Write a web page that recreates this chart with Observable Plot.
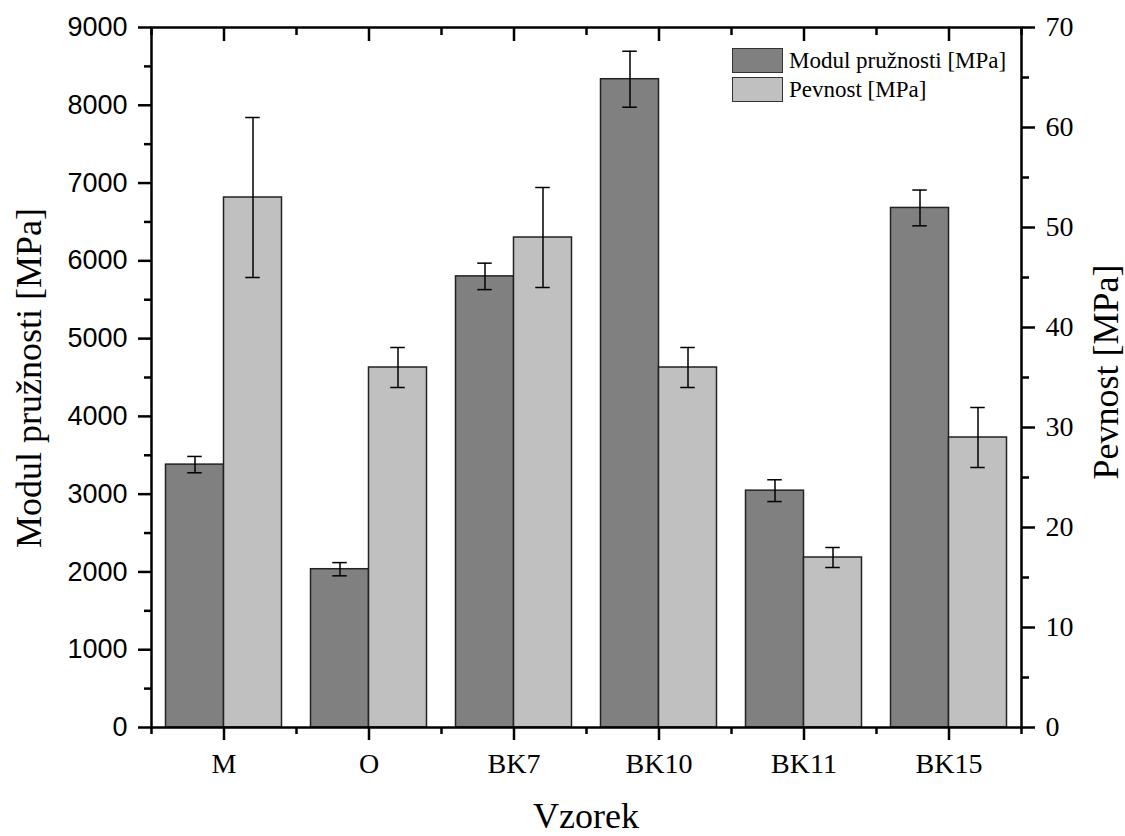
<!DOCTYPE html>
<html>
<head>
<meta charset="utf-8">
<script src="https://cdn.jsdelivr.net/npm/d3@7"></script>
<script src="https://cdn.jsdelivr.net/npm/@observablehq/plot@0.6"></script>
<style>
  body { margin: 0; background: #fff; }
  #chart { position: relative; width: 1125px; height: 836px; }
  .legend { position: absolute; left: 732px; top: 48px; font-family: "Liberation Serif", serif; font-size: 23px; color: #000; }
  .legend .row { display: flex; align-items: center; height: 25px; margin-bottom: 4px; }
  .legend .sw { width: 49px; height: 23px; border: 1.5px solid #333; margin-right: 6px; }
</style>
</head>
<body>
<div id="chart">
  <div class="legend">
    <div class="row"><div class="sw" style="background:#808080"></div><span>Modul pružnosti [MPa]</span></div>
    <div class="row"><div class="sw" style="background:#c0c0c0"></div><span>Pevnost [MPa]</span></div>
  </div>
</div>
<script>
// Samples and measured values
const samples = ["M", "O", "BK7", "BK10", "BK11", "BK15"];
const modul = [3380, 2035, 5800, 8335, 3045, 6680];        // modulus of elasticity [MPa]
const modulErr = [105, 85, 170, 360, 140, 230];
const pevnost = [53, 36, 49, 36, 17, 29];                  // strength [MPa]
const pevnostErr = [8, 2, 5, 2, 1, 3];

const leftTicks = d3.range(0, 9001, 1000);
const rightTicks = d3.range(0, 71, 10);

// Right axis (0–70) shares the plot height with the left axis (0–9000)
const k = 9000 / 70;

const rows = samples.map((s, i) => ({
  sample: s, i,
  modul: modul[i], modulErr: modulErr[i],
  pevnost: pevnost[i] * k, pevnostErr: pevnostErr[i] * k
}));

const half = 0.4;     // width of one bar in band units
const cap = 0.05;     // half width of the error bar caps

const axisCommon = { strokeWidth: 2.5, label: null };

const plot = Plot.plot({
  width: 1125,
  height: 836,
  marginLeft: 151,
  marginRight: 104,
  marginTop: 27,
  marginBottom: 109,
  style: { fontFamily: "Liberation Serif", background: "white", color: "#000" },
  x: { type: "linear", domain: [-0.5, samples.length - 0.5] },
  y: { domain: [0, 9000] },
  marks: [
    // bars
    Plot.rectY(rows, { x1: d => d.i - half, x2: d => d.i, y: "modul", fill: "#808080", stroke: "#222", strokeWidth: 1.5 }),
    Plot.rectY(rows, { x1: d => d.i, x2: d => d.i + half, y: "pevnost", fill: "#c0c0c0", stroke: "#222", strokeWidth: 1.5 }),
    // error bars
    Plot.ruleX(rows, { x: d => d.i - half / 2, y1: d => d.modul - d.modulErr, y2: d => d.modul + d.modulErr, stroke: "#000", strokeWidth: 1.5 }),
    Plot.ruleY(rows, { y: d => d.modul + d.modulErr, x1: d => d.i - half / 2 - cap, x2: d => d.i - half / 2 + cap, stroke: "#000", strokeWidth: 1.5 }),
    Plot.ruleY(rows, { y: d => d.modul - d.modulErr, x1: d => d.i - half / 2 - cap, x2: d => d.i - half / 2 + cap, stroke: "#000", strokeWidth: 1.5 }),
    Plot.ruleX(rows, { x: d => d.i + half / 2, y1: d => d.pevnost - d.pevnostErr, y2: d => d.pevnost + d.pevnostErr, stroke: "#000", strokeWidth: 1.5 }),
    Plot.ruleY(rows, { y: d => d.pevnost + d.pevnostErr, x1: d => d.i + half / 2 - cap, x2: d => d.i + half / 2 + cap, stroke: "#000", strokeWidth: 1.5 }),
    Plot.ruleY(rows, { y: d => d.pevnost - d.pevnostErr, x1: d => d.i + half / 2 - cap, x2: d => d.i + half / 2 + cap, stroke: "#000", strokeWidth: 1.5 }),

    // left axis
    Plot.axisY(leftTicks, { ...axisCommon, anchor: "left", tickSize: 13, tickPadding: 11, fontSize: 27, fontFamily: "Liberation Sans", tickFormat: d3.format("d") }),
    Plot.axisY(d3.range(500, 9000, 1000), { ...axisCommon, anchor: "left", tickSize: 7, tickFormat: () => "" }),
    // right axis
    Plot.axisY(rightTicks.map(v => v * k), { ...axisCommon, anchor: "right", tickSize: 13, tickPadding: 11, fontSize: 28, tickFormat: d => String(Math.round(d / k)) }),
    Plot.axisY(d3.range(5, 70, 10).map(v => v * k), { ...axisCommon, anchor: "right", tickSize: 7, tickFormat: () => "" }),
    // bottom axis
    Plot.axisX(d3.range(samples.length), { ...axisCommon, anchor: "bottom", tickSize: 13, tickPadding: 13, fontSize: 28, tickFormat: i => samples[i] }),
    Plot.axisX(d3.range(-0.5, samples.length, 1), { ...axisCommon, anchor: "bottom", tickSize: 7, tickFormat: () => "" }),
    // top frame ticks (pointing inward)
    Plot.axisX(d3.range(samples.length), { ...axisCommon, anchor: "top", tickSize: -13, tickFormat: () => "" }),
    Plot.axisX(d3.range(-0.5, samples.length, 1), { ...axisCommon, anchor: "top", tickSize: -7, tickFormat: () => "" }),

    Plot.frame({ stroke: "#000", strokeWidth: 2.5 })
  ]
});

const chart = document.getElementById("chart");
chart.insertBefore(plot, chart.firstChild);

// Axis titles
const svg = d3.select(plot);
const title = (text, x, y, rotate) =>
  svg.append("text")
    .attr("transform", `translate(${x},${y}) rotate(${rotate})`)
    .attr("text-anchor", "middle")
    .attr("font-family", "Liberation Serif")
    .attr("font-size", 36)
    .attr("fill", "#000")
    .text(text);

title("Vzorek", 586, 828, 0);
title("Modul pružnosti [MPa]", 41, 378, -90);
title("Pevnost [MPa]", 1118, 372, -90);
</script>
</body>
</html>
